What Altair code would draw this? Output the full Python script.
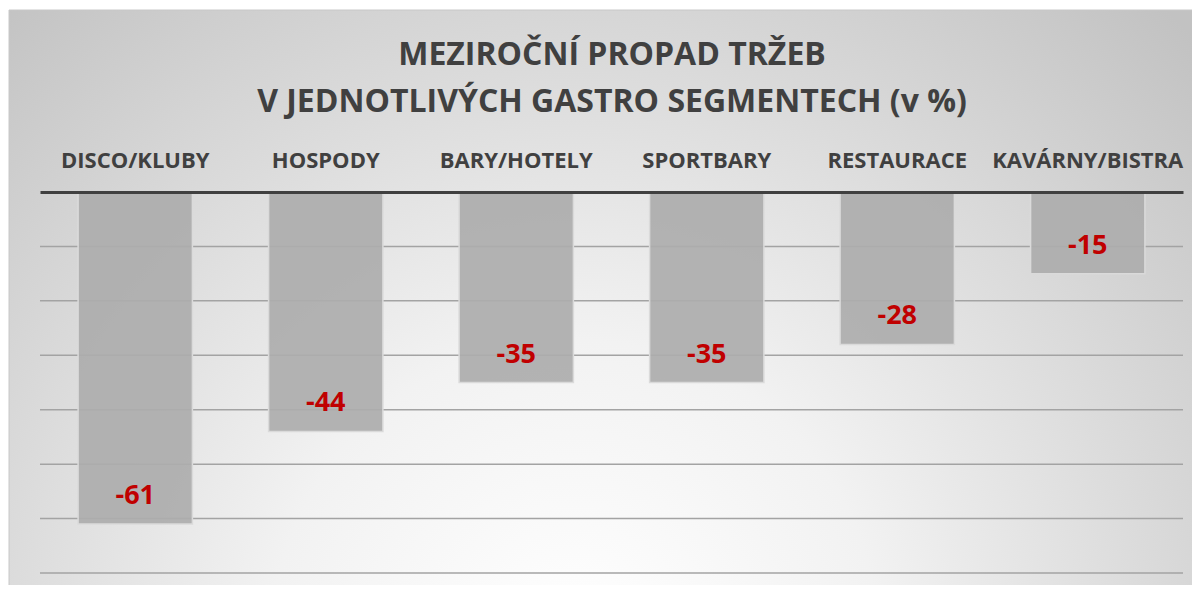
import altair as alt
import pandas as pd

categories = ["DISCO/KLUBY", "HOSPODY", "BARY/HOTELY", "SPORTBARY", "RESTAURACE", "KAVÁRNY/BISTRA"]
values = [-61, -44, -35, -35, -28, -15]
title_lines = ["MEZIROČNÍ PROPAD TRŽEB", "V JEDNOTLIVÝCH GASTRO SEGMENTECH (v %)"]
grid_values = [-10, -20, -30, -40, -50, -60, -70]

df = pd.DataFrame({"cat": categories, "val": values, "lab": [str(v) for v in values]})
gdf = pd.DataFrame({"g": grid_values})

W, H = 1143, 381
FONT = "Open Sans"

bg_fill = {
    "gradient": "radial",
    "x1": 0.47, "y1": 0.78, "r1": 0,
    "x2": 0.47, "y2": 0.78, "r2": 0.72,
    "stops": [
        {"offset": 0, "color": "#ffffff"},
        {"offset": 0.35, "color": "#f2f2f2"},
        {"offset": 1, "color": "#c2c2c2"},
    ],
}

background = alt.Chart(alt.Data(values=[{}])).mark_rect(
    fill=bg_fill, stroke="#c8c8c8", strokeWidth=1
).encode(
    x=alt.value(-31), x2=alt.value(W + 30), y=alt.value(-182), y2=alt.value(H + 30)
)

title = alt.Chart(alt.Data(values=[{}])).mark_text(
    text=title_lines, font=FONT, fontWeight="bold", fontSize=32, color="#404040",
    lineHeight=47, align="center", baseline="middle"
).encode(x=alt.value(572), y=alt.value(-137))

yscale = alt.Scale(domain=[-70, 0], nice=False, zero=False)

grid = alt.Chart(gdf).mark_rule(color="#a3a3a3", strokeWidth=1.5).encode(
    y=alt.Y("g:Q", scale=yscale, axis=None),
    x=alt.value(0), x2=alt.value(W),
)

xenc = alt.X(
    "cat:N", sort=categories,
    scale=alt.Scale(paddingInner=0.4, paddingOuter=0.2),
    axis=alt.Axis(
        orient="top", title=None, ticks=False, tickSize=0, labelPadding=25,
        labelBaseline="alphabetic", labelFont=FONT, labelFontWeight="bold",
        labelFontSize=22, labelColor="#404040", domainColor="#404040",
        domainWidth=3, labelAngle=0, grid=False, zindex=2, labelLimit=0
    ),
)

bars = alt.Chart(df).mark_bar(
    fill="#adadad", fillOpacity=0.92, stroke="#dadada", strokeWidth=1.5
).encode(
    x=xenc,
    y=alt.Y("val:Q", scale=yscale, axis=None),
)

labels = alt.Chart(df).mark_text(
    font=FONT, fontWeight="bold", fontSize=27, color="#c00000",
    baseline="middle", align="center", dy=-28
).encode(
    x=alt.X("cat:N", sort=categories),
    y=alt.Y("val:Q", scale=yscale, axis=None),
    text=alt.Text("lab:N"),
)

chart = alt.layer(background, title, grid, bars, labels).properties(
    width=W, height=H,
    autosize=alt.AutoSizeParams(type="none"),
    padding={"left": 32, "top": 184, "right": 9, "bottom": 12},
).configure_view(stroke=None)

chart.save("out.html", embed_options={"renderer": "svg", "actions": False})
